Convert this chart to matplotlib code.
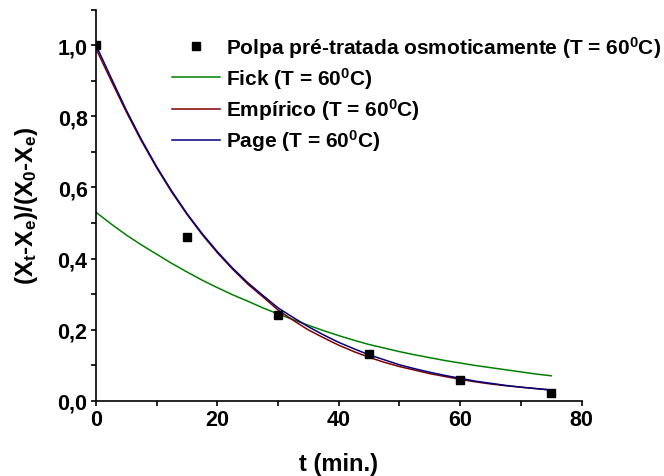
import numpy as np
import matplotlib
matplotlib.use('Agg')
import matplotlib.pyplot as plt
from matplotlib.ticker import MultipleLocator, FuncFormatter

plt.rcParams['font.family'] = ['Liberation Sans', 'DejaVu Sans']
plt.rcParams['font.weight'] = 'bold'
plt.rcParams['mathtext.fontset'] = 'custom'
plt.rcParams['mathtext.rm'] = 'Liberation Sans:bold'
plt.rcParams['mathtext.bf'] = 'Liberation Sans:bold'
plt.rcParams['mathtext.it'] = 'Liberation Sans:bold'

# experimental points
t_exp = [0, 15, 30, 45, 60, 75]
mr_exp = [1.0, 0.46, 0.241, 0.13, 0.059, 0.021]

t_fit = [0, 2.5, 5, 7.5, 10, 12.5, 15, 17.5, 20, 22.5, 25, 27.5, 30, 32.5, 35,
         37.5, 40, 42.5, 45, 47.5, 50, 52.5, 55, 57.5, 60, 62.5, 65, 67.5, 70,
         72.5, 75]
mr_fick = [0.530, 0.497, 0.466, 0.438, 0.412, 0.386, 0.362, 0.339, 0.318, 0.298,
           0.280, 0.261, 0.244, 0.228, 0.212, 0.197, 0.183, 0.170, 0.158, 0.148,
           0.138, 0.129, 0.121, 0.113, 0.106, 0.099, 0.093, 0.087, 0.081, 0.075,
           0.070]
mr_emp = [0.990, 0.900, 0.812, 0.730, 0.655, 0.586, 0.524, 0.467, 0.416, 0.370,
          0.328, 0.292, 0.255, 0.226, 0.199, 0.177, 0.156, 0.138, 0.122, 0.108,
          0.096, 0.086, 0.076, 0.068, 0.060, 0.053, 0.047, 0.042, 0.038, 0.034,
          0.030]
mr_page = [1.000, 0.908, 0.817, 0.734, 0.658, 0.589, 0.526, 0.470, 0.419, 0.373,
           0.332, 0.296, 0.261, 0.234, 0.208, 0.185, 0.164, 0.146, 0.129, 0.115,
           0.101, 0.090, 0.080, 0.071, 0.063, 0.055, 0.049, 0.043, 0.038, 0.034,
           0.030]

sup = r'$^{\mathbf{0}}$'
labels = ['Polpa pré-tratada osmoticamente (T = 60' + sup + 'C)',
          'Fick (T = 60' + sup + 'C)',
          'Empírico (T = 60' + sup + 'C)',
          'Page (T = 60' + sup + 'C)']

fig = plt.figure(figsize=(6.64, 4.77), dpi=100)
ax = fig.add_axes([0.1446, 0.1579, 0.7312, 0.8197])

ax.plot(t_exp, mr_exp, 's', color='black', ms=6.2, label=labels[0], zorder=5)
ax.plot(t_fit, mr_fick, color='#008000', lw=1.1, label=labels[1])
ax.plot(t_fit, mr_emp, color='#800000', lw=1.1, label=labels[2])
ax.plot(t_fit, mr_page, color='#000080', lw=1.1, label=labels[3])

ax.set_xlim(0, 80)
ax.set_ylim(0, 1.1)
ax.xaxis.set_major_locator(MultipleLocator(20))
ax.xaxis.set_minor_locator(MultipleLocator(10))
ax.yaxis.set_major_locator(MultipleLocator(0.2))
ax.yaxis.set_minor_locator(MultipleLocator(0.1))
ax.yaxis.set_major_formatter(FuncFormatter(lambda v, p: ('%.1f' % v).replace('.', ',')))

for s in ['top', 'right']:
    ax.spines[s].set_visible(False)
for s in ['left', 'bottom']:
    ax.spines[s].set_linewidth(1.2)
ax.tick_params(which='major', direction='out', length=3.6, width=1.2, labelsize=15.5, pad=2.5)
ax.tick_params(which='minor', direction='out', length=3.4, width=1.2)
for lab in ax.get_xticklabels() + ax.get_yticklabels():
    lab.set_fontweight('bold')

ax.set_xlabel('t (min.)', fontsize=17, fontweight='bold')
ax.set_ylabel('(X$_\\mathbf{t}$-X$_\\mathbf{e}$)/(X$_\\mathbf{0}$-X$_\\mathbf{e}$)',
              fontsize=17.5, fontweight='bold')
ax.xaxis.set_label_coords(0.5, -0.132)
ax.yaxis.set_label_coords(-0.116, 0.5)

leg = ax.legend(loc='upper left', bbox_to_anchor=(0.156, 0.938), frameon=False,
                fontsize=15, handlelength=2.3, handletextpad=0.32,
                labelspacing=0.25, borderpad=0, borderaxespad=0)
for txt in leg.get_texts():
    txt.set_fontweight('bold')

fig.savefig('out.png', dpi=100)
